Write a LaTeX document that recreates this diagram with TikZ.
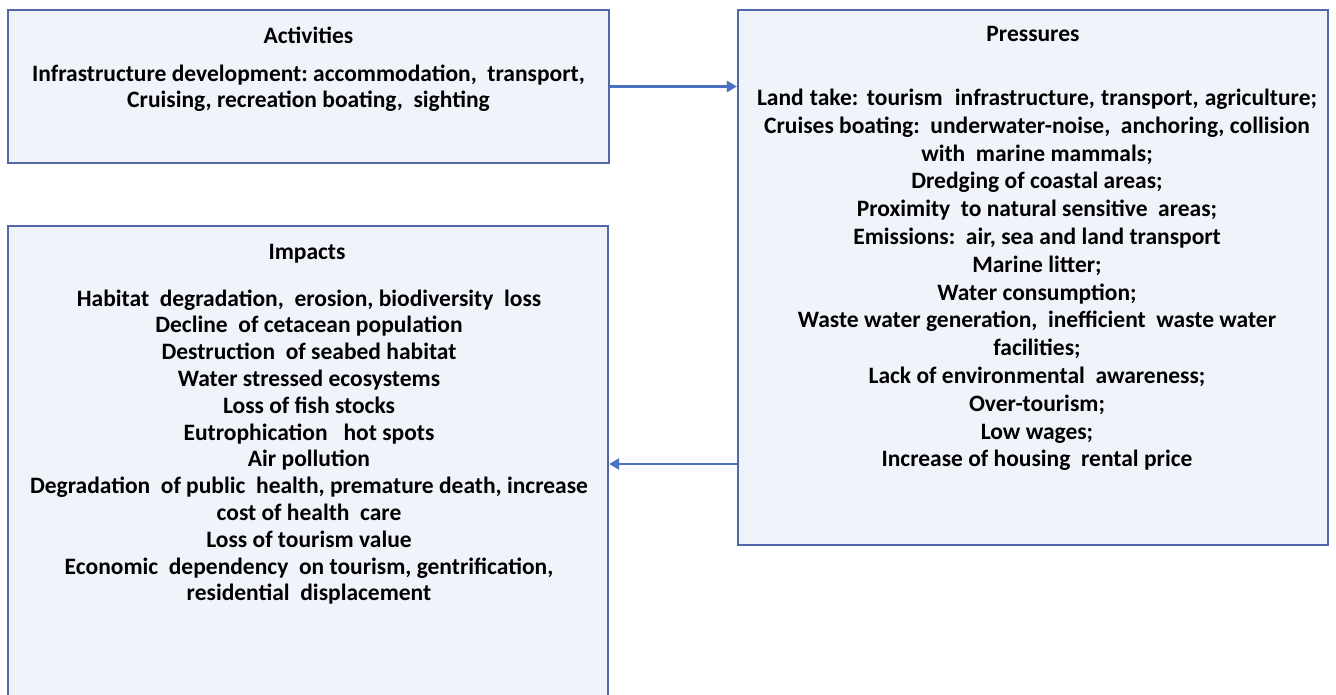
\documentclass[tikz,border=0pt]{standalone}
\usepackage{fontspec}
\setmainfont{Carlito}
\usetikzlibrary{arrows.meta}
\definecolor{boxfill}{HTML}{F0F3F9}
\definecolor{boxline}{HTML}{5068A8}
\definecolor{arrcol}{HTML}{4A72C0}
\tikzset{
  panel/.style={draw=boxline, fill=boxfill, line width=2.2pt, rectangle, inner sep=0pt},
  ttl/.style={font=\bfseries\fontsize{23.5}{28}\selectfont, inner sep=0pt},
  body/.style={font=\bfseries\fontsize{23.5}{#1}\selectfont, align=center, inner sep=0pt},
  arr/.style={draw=arrcol, line width=2.6pt, -{Triangle[length=10pt,width=11pt]}}
}
\begin{document}
\begin{tikzpicture}[x=1pt,y=-1pt]
\useasboundingbox (0,0) rectangle (1336,695);
\node[panel, minimum width=601pt, minimum height=153pt] (act) at (308.5,86.5) {};
\node[panel, minimum width=590pt, minimum height=535pt] (pres) at (1033,277.5) {};
\node[panel, minimum width=600pt, minimum height=476pt] (imp) at (308,464) {};
\node[ttl] (actt) at (308.5,35) {Activities};
\node[body=26pt] (actb) at (308.5,88) {Infrastructure development:\ accommodation,\ \ transport,\\Cruising,\ recreation boating,\ \ sighting};
\node[ttl] (prest) at (1033,34) {Pressures};
\node[body=27.8pt] (presb) at (1037,280) {\makebox[560pt][s]{Land take: tourism\ \ infrastructure, transport, agriculture;}\\
Cruises boating:\ \ underwater-noise,\ \ anchoring, collision\\
with\ \ marine mammals;\\
Dredging of coastal areas;\\
Proximity\ \ to natural sensitive\ \ areas;\\
Emissions:\ \ air, sea and land transport\\
Marine litter;\\
Water consumption;\\
Waste water generation,\ \ inefficient\ \ waste water\\
facilities;\\
Lack of environmental\ \ awareness;\\
Over-tourism;\\
Low wages;\\
Increase of housing\ \ rental price};
\node[ttl] (impt) at (307,254) {Impacts};
\node[body=26.8pt] (impb) at (309,447) {Habitat\ \ degradation,\ \ erosion, biodiversity\ \ loss\\
Decline\ \ of cetacean population\\
Destruction\ \ of seabed habitat\\
Water stressed ecosystems\\
Loss of fish stocks\\
Eutrophication\ \ \ hot spots\\
Air pollution\\
Degradation\ \ of public\ \ health, premature death, increase\\
cost of health\ \ care\\
Loss of tourism value\\
Economic\ \ dependency\ \ on tourism, gentrification,\\
residential\ \ displacement};
\draw[arr] (act.east) -- (pres.west |- act.east);
\draw[arr] (pres.west |- imp.east) -- (imp.east);
\end{tikzpicture}
\end{document}
